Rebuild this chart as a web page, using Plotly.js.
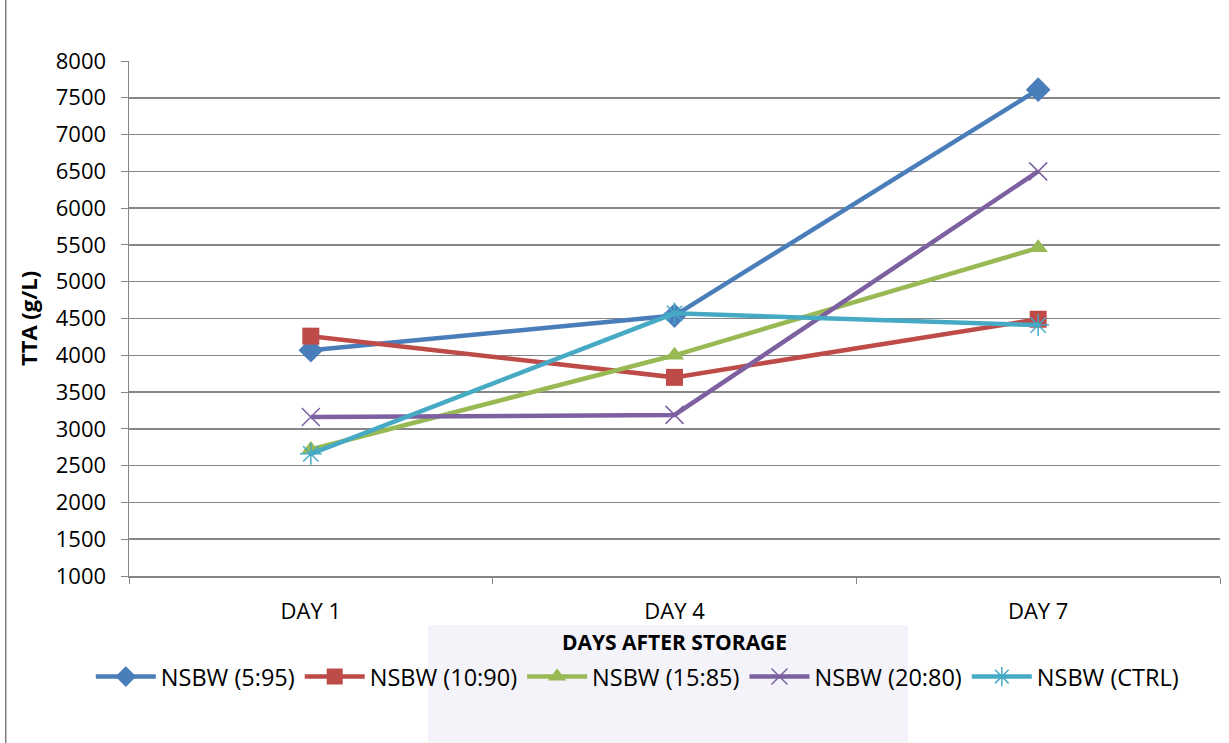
<!DOCTYPE html>
<html><head><meta charset="utf-8">
<script src="https://cdn.plot.ly/plotly-3.0.1.min.js"></script>
<style>html,body{margin:0;padding:0;background:#fff;}#chart{width:1229px;height:743px;}</style>
</head><body><div id="chart"></div>
<script>
const categories = ["DAY 1", "DAY 4", "DAY 7"];
const seriesNames = ["NSBW (5:95)", "NSBW (10:90)", "NSBW (15:85)", "NSBW (20:80)", "NSBW (CTRL)"];
const nsbw_5_95 = [4070, 4540, 7610];
const nsbw_10_90 = [4260, 3700, 4490];
const nsbw_15_85 = [2720, 4000, 5460];
const nsbw_20_80 = [3160, 3190, 6500];
const nsbw_ctrl = [2660, 4570, 4410];
const yTicks = [1000,1500,2000,2500,3000,3500,4000,4500,5000,5500,6000,6500,7000,7500,8000];

const values = [nsbw_5_95, nsbw_10_90, nsbw_15_85, nsbw_20_80, nsbw_ctrl];
const colors = ["#4a7ebb", "#be4b48", "#98b954", "#7d60a0", "#46aac5"];
const symbols = ["diamond", "square", "triangle-up", "x-thin-open", "asterisk-open"];
const sizes = [19, 17, 17, 18, 18];

const traces = values.map((v, i) => ({
  type: "scatter", mode: "lines+markers",
  x: categories, y: v, name: seriesNames[i],
  line: {color: colors[i], width: 4.5},
  marker: {symbol: symbols[i], size: sizes[i], color: colors[i],
           line: {color: colors[i], width: (i >= 3 ? 1.5 : 0)}}
}));

const layout = {
  width: 1229, height: 743,
  margin: {l: 129, r: 9, t: 61, b: 167},
  paper_bgcolor: "#ffffff", plot_bgcolor: "#ffffff",
  font: {family: "Open Sans, sans-serif", color: "#000", size: 22},
  showlegend: true,
  legend: {orientation: "h", x: -0.035, xanchor: "left", y: -0.153, yanchor: "top",
           yref: "paper", font: {size: 23.5}, itemwidth: 60, tracegroupgap: 0,
           bgcolor: "rgba(0,0,0,0)"},
  xaxis: {
    type: "category", range: [-0.5, 2.5],
    tickson: "boundaries", ticks: "outside", ticklen: 6, tickcolor: "#868686",
    showline: true, linecolor: "#868686", linewidth: 1.5,
    showgrid: false, zeroline: false,
    tickfont: {size: 22}, ticklabelstandoff: 15,
    title: {text: "<b>DAYS AFTER STORAGE</b>", font: {size: 21}, standoff: 11}
  },
  yaxis: {
    range: [1000, 8000], tickvals: yTicks, ticktext: yTicks.map(String),
    ticks: "outside", ticklen: 7, tickcolor: "#868686",
    showline: true, linecolor: "#868686", linewidth: 1.5,
    showgrid: true, gridcolor: "#868686", gridwidth: 1.5,
    zeroline: false, tickfont: {size: 22}, ticklabelstandoff: 10,
    title: {text: "<b>TTA (g/L)</b>", font: {size: 22}, standoff: 12}
  },
  shapes: [
    {type: "rect", xref: "paper", yref: "paper", x0: 0.274, x1: 0.714, y0: -0.325, y1: -0.095,
     fillcolor: "#f3f3f9", line: {width: 0}, layer: "below"},
    {type: "line", xref: "paper", yref: "paper", x0: -0.113, x1: -0.113, y0: -0.33, y1: 1.12,
     line: {color: "#7f7f7f", width: 1.5}},
    {type: "line", xref: "paper", yref: "paper", x0: -0.113, x1: 1.01, y0: 1.12, y1: 1.12,
     line: {color: "#7f7f7f", width: 1.5}}
  ]
};

Plotly.newPlot("chart", traces, layout, {displayModeBar: false, staticPlot: true});
</script></body></html>
